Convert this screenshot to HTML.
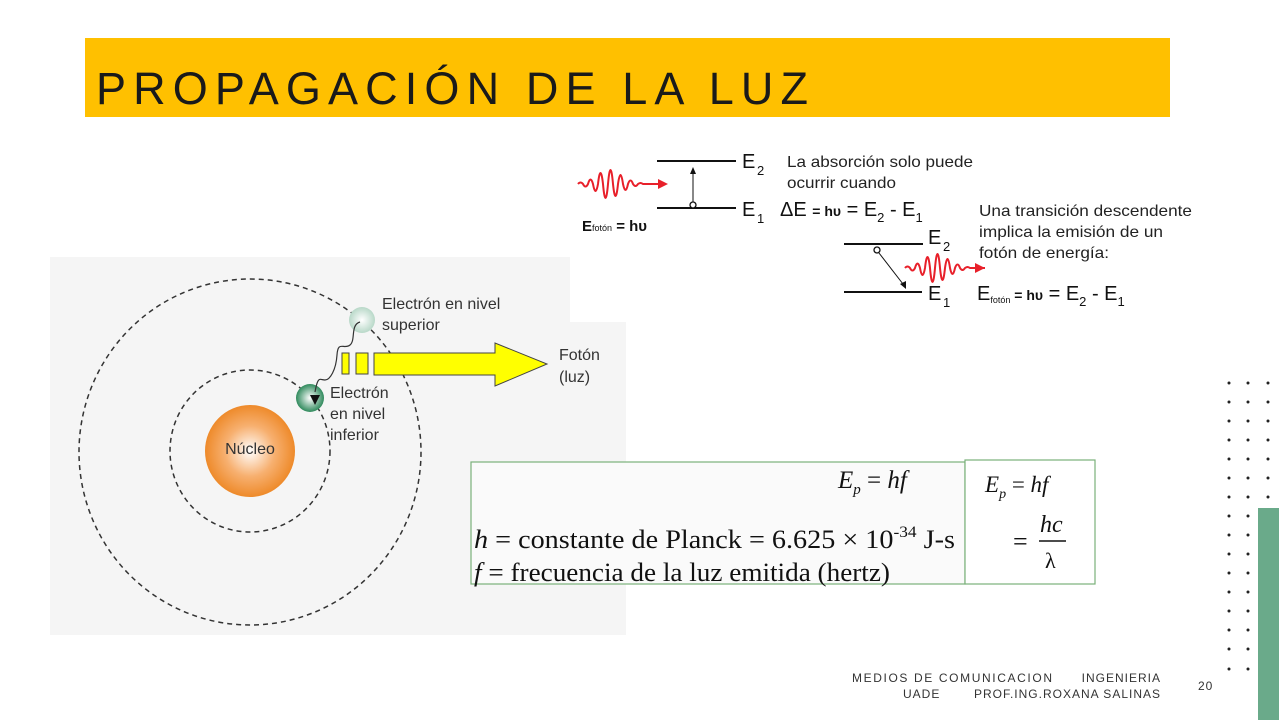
<!DOCTYPE html>
<html><head><meta charset="utf-8"><style>
html,body{margin:0;padding:0;background:#fff;}
svg{display:block;}
text{font-family:"Liberation Sans",sans-serif;}
.ser{font-family:"Liberation Serif",serif;}
</style></head><body>
<svg width="1279" height="720" viewBox="0 0 1279 720" xmlns="http://www.w3.org/2000/svg">
<defs>
<radialGradient id="nuc" cx="50%" cy="50%" r="50%"><stop offset="0" stop-color="#fff"/><stop offset="0.55" stop-color="#f7b070"/><stop offset="1" stop-color="#ee8a2a"/></radialGradient>
<radialGradient id="e1" cx="50%" cy="50%" r="50%"><stop offset="0" stop-color="#fff"/><stop offset="1" stop-color="#2f8a5c"/></radialGradient>
<radialGradient id="e2" cx="50%" cy="50%" r="50%"><stop offset="0" stop-color="#fff"/><stop offset="1" stop-color="#b8d8c8"/></radialGradient>
<path id="wave" d="M0 0 Q2.5 -3 5 0 Q7.5 5 10 0 Q12.5 -9 15 0 Q17.5 14 20 0 Q22.5 -22 25 0 Q27.5 28 30 0 Q32.5 -28 35 0 Q37.5 24 40 0 Q42.5 -18 45 0 Q47.5 12 50 0 Q52.5 -7 55 0 Q57.5 4 60 0 Q62.5 -2 65 0 L80 0" fill="none" stroke="#e8202a" stroke-width="2"/>
</defs>
<rect x="85" y="38" width="1085" height="79" fill="#ffc000"/>
<text x="96" y="104" font-size="45" fill="#1a1a1a" textLength="712" lengthAdjust="spacing">PROPAGACIÓN DE LA LUZ</text>

<rect x="50" y="257" width="520" height="378" fill="#f5f5f5"/>
<rect x="570" y="322" width="56" height="313" fill="#f5f5f5"/>
<ellipse cx="250" cy="452" rx="171" ry="173" fill="none" stroke="#333" stroke-width="1.5" stroke-dasharray="5,4"/>
<ellipse cx="250" cy="451" rx="80" ry="81" fill="none" stroke="#333" stroke-width="1.5" stroke-dasharray="5,4"/>
<ellipse cx="250" cy="451" rx="45" ry="46" fill="url(#nuc)"/>
<text x="250" y="454" font-size="16" text-anchor="middle" fill="#333">Núcleo</text>
<circle cx="362" cy="320" r="13" fill="url(#e2)"/>
<circle cx="310" cy="398" r="14" fill="url(#e1)"/>
<path d="M360 322 C 350 325, 356 340, 350 345 S 338 340, 337 355 S 330 380, 325 380 S 318 375, 315 392" fill="none" stroke="#333" stroke-width="1.2"/>
<polygon points="310,395 320,395 315,405" fill="#111"/>
<rect x="342" y="353" width="7" height="21" fill="#ffff00" stroke="#444"/>
<rect x="356" y="353" width="12" height="21" fill="#ffff00" stroke="#444"/>
<polygon points="374,353 495,353 495,343 547,364 495,386 495,375 374,375" fill="#ffff00" stroke="#444"/>
<text x="382" y="309" font-size="16" fill="#333">Electrón en nivel</text>
<text x="382" y="330" font-size="16" fill="#333">superior</text>
<text x="559" y="360" font-size="16" fill="#333">Fotón</text>
<text x="559" y="382" font-size="16" fill="#333">(luz)</text>
<text x="330" y="398" font-size="16" fill="#333">Electrón</text>
<text x="330" y="419" font-size="16" fill="#333">en nivel</text>
<text x="330" y="440" font-size="16" fill="#333">inferior</text>

<line x1="657" y1="161" x2="736" y2="161" stroke="#111" stroke-width="2"/>
<line x1="657" y1="208" x2="736" y2="208" stroke="#111" stroke-width="2"/>
<line x1="693" y1="204" x2="693" y2="172" stroke="#111" stroke-width="1"/>
<polygon points="690,174 696,174 693,167" fill="#111"/>
<circle cx="693" cy="205" r="3" fill="#fff" stroke="#111" stroke-width="1.3"/>
<use href="#wave" x="578" y="184"/>
<polygon points="658,179 668,184 658,189" fill="#e8202a"/>
<text x="742" y="168" font-size="20" fill="#111">E</text><text x="757" y="175" font-size="13" fill="#111">2</text>
<text x="742" y="216" font-size="20" fill="#111">E</text><text x="757" y="223" font-size="13" fill="#111">1</text>
<text x="787" y="167" font-size="16" fill="#222" textLength="186" lengthAdjust="spacingAndGlyphs">La absorción solo puede</text>
<text x="787" y="188" font-size="16" fill="#222" textLength="109" lengthAdjust="spacingAndGlyphs">ocurrir cuando</text>
<text x="780" y="216" font-size="20" fill="#111">ΔE <tspan font-size="14" font-weight="bold">= hυ</tspan>  = E<tspan font-size="13" dy="6">2</tspan><tspan dy="-6"> -  E</tspan><tspan font-size="13" dy="6">1</tspan></text>
<text x="582" y="231" font-size="15" font-weight="bold" fill="#111">E<tspan font-size="9" font-weight="normal">fotón</tspan>  = hυ</text>

<line x1="844" y1="244" x2="923" y2="244" stroke="#111" stroke-width="2"/>
<line x1="844" y1="292" x2="922" y2="292" stroke="#111" stroke-width="2"/>
<circle cx="877" cy="250" r="3" fill="#fff" stroke="#111" stroke-width="1.3"/>
<line x1="879" y1="253" x2="903" y2="284" stroke="#111" stroke-width="1"/>
<polygon points="900,284 906,281 906,289" fill="#111"/>
<use href="#wave" x="905" y="268"/>
<polygon points="975,263 985,268 975,273" fill="#e8202a"/>
<text x="928" y="244" font-size="20" fill="#111">E</text><text x="943" y="251" font-size="13" fill="#111">2</text>
<text x="928" y="300" font-size="20" fill="#111">E</text><text x="943" y="307" font-size="13" fill="#111">1</text>
<text x="979" y="216" font-size="16" fill="#222" textLength="213" lengthAdjust="spacingAndGlyphs">Una transición descendente</text>
<text x="979" y="237" font-size="16" fill="#222" textLength="184" lengthAdjust="spacingAndGlyphs">implica la emisión de un</text>
<text x="979" y="258" font-size="16" fill="#222" textLength="130" lengthAdjust="spacingAndGlyphs">fotón de energía:</text>
<text x="977" y="300" font-size="20" fill="#111">E<tspan font-size="9" dy="3">fotón</tspan><tspan dy="-3" font-size="14" font-weight="bold">  = hυ</tspan> = E<tspan font-size="13" dy="6">2</tspan><tspan dy="-6"> -  E</tspan><tspan font-size="13" dy="6">1</tspan></text>

<rect x="471" y="462" width="494" height="122" fill="#fafafa" stroke="#7ab07a" stroke-width="1.2"/>
<rect x="965" y="460" width="130" height="124" fill="#fff" stroke="#7ab07a" stroke-width="1.2"/>
<text class="ser" x="838" y="488" font-size="25" font-style="italic" fill="#111">E<tspan font-size="15" dy="6">p</tspan><tspan dy="-6" font-style="normal"> = </tspan>hf</text>
<text class="ser" x="474" y="548" font-size="26" fill="#111" textLength="481" lengthAdjust="spacingAndGlyphs"><tspan font-style="italic">h</tspan> = constante de Planck = 6.625 × 10<tspan font-size="16" dy="-11">-34</tspan><tspan dy="11"> J-s</tspan></text>
<text class="ser" x="474" y="581" font-size="26" fill="#111" textLength="416" lengthAdjust="spacingAndGlyphs"><tspan font-style="italic">f</tspan> = frecuencia de la luz emitida (hertz)</text>
<text class="ser" x="985" y="492" font-size="23" font-style="italic" fill="#111">E<tspan font-size="14" dy="6">p</tspan><tspan dy="-6" font-style="normal"> = </tspan>hf</text>
<text class="ser" x="1013" y="550" font-size="26" fill="#111">=</text>
<text class="ser" x="1040" y="532" font-size="24" font-style="italic" fill="#111">hc</text>
<line x1="1039" y1="541" x2="1066" y2="541" stroke="#111" stroke-width="1.4"/>
<text class="ser" x="1045" y="568" font-size="22" fill="#111">λ</text>

<text x="852" y="682" font-size="12" fill="#333" textLength="200" lengthAdjust="spacing">MEDIOS DE COMUNICACION</text>
<text x="1161" y="682" font-size="12" fill="#333" text-anchor="end" letter-spacing="1">INGENIERIA</text>
<text x="903" y="698" font-size="12" fill="#333" letter-spacing="1">UADE</text>
<text x="1161" y="698" font-size="12" fill="#333" text-anchor="end" letter-spacing="1">PROF.ING.ROXANA SALINAS</text>
<text x="1198" y="690" font-size="12" fill="#333" letter-spacing="1">20</text>

<rect x="1258" y="508" width="21" height="212" fill="#6aaa8a"/>
<g fill="#222">
<circle cx="1229" cy="383" r="1.5"/><circle cx="1248" cy="383" r="1.5"/><circle cx="1268" cy="383" r="1.5"/>
<circle cx="1229" cy="402" r="1.5"/><circle cx="1248" cy="402" r="1.5"/><circle cx="1268" cy="402" r="1.5"/>
<circle cx="1229" cy="421" r="1.5"/><circle cx="1248" cy="421" r="1.5"/><circle cx="1268" cy="421" r="1.5"/>
<circle cx="1229" cy="440" r="1.5"/><circle cx="1248" cy="440" r="1.5"/><circle cx="1268" cy="440" r="1.5"/>
<circle cx="1229" cy="459" r="1.5"/><circle cx="1248" cy="459" r="1.5"/><circle cx="1268" cy="459" r="1.5"/>
<circle cx="1229" cy="478" r="1.5"/><circle cx="1248" cy="478" r="1.5"/><circle cx="1268" cy="478" r="1.5"/>
<circle cx="1229" cy="497" r="1.5"/><circle cx="1248" cy="497" r="1.5"/><circle cx="1268" cy="497" r="1.5"/>
<circle cx="1229" cy="516" r="1.5"/><circle cx="1248" cy="516" r="1.5"/>
<circle cx="1229" cy="535" r="1.5"/><circle cx="1248" cy="535" r="1.5"/>
<circle cx="1229" cy="554" r="1.5"/><circle cx="1248" cy="554" r="1.5"/>
<circle cx="1229" cy="573" r="1.5"/><circle cx="1248" cy="573" r="1.5"/>
<circle cx="1229" cy="592" r="1.5"/><circle cx="1248" cy="592" r="1.5"/>
<circle cx="1229" cy="611" r="1.5"/><circle cx="1248" cy="611" r="1.5"/>
<circle cx="1229" cy="630" r="1.5"/><circle cx="1248" cy="630" r="1.5"/>
<circle cx="1229" cy="649" r="1.5"/><circle cx="1248" cy="649" r="1.5"/>
<circle cx="1229" cy="669" r="1.5"/><circle cx="1248" cy="669" r="1.5"/>
</g>
</svg>
</body></html>
